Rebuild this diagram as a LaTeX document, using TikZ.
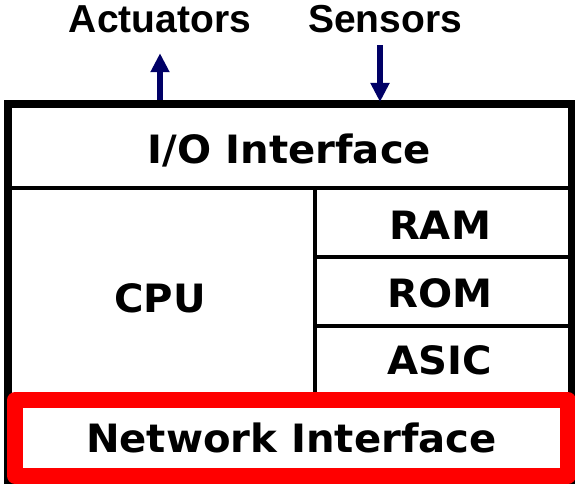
\documentclass[tikz,border=0pt]{standalone}
\usepackage{fontspec}
\newfontfamily\boxfont[FakeStretch=1.03]{DejaVu Sans}
\newfontfamily\labelfont{Liberation Sans}
\usetikzlibrary{arrows.meta}
\definecolor{sigblue}{RGB}{0,0,102}
\definecolor{netred}{RGB}{255,0,0}
\tikzset{
  cell/.style={font=\boxfont\bfseries\fontsize{39}{40}\selectfont, inner sep=0pt, text height=28pt, text depth=0pt},
  extlabel/.style={font=\labelfont\bfseries\fontsize{39}{40}\selectfont, inner sep=0pt, text height=28pt, text depth=0pt},
  sigarrow/.style={draw=sigblue, line width=6pt, -{Triangle[width=18pt,length=19pt]}},
  netbox/.style={cell, draw=netred, line width=16pt, line join=round, fill=white, minimum width=553pt, minimum height=75.5pt},
}
\begin{document}
\begin{tikzpicture}[x=1pt,y=-1pt]
    \useasboundingbox (0,0) rectangle (575,484);
    \draw[line width=8pt] (7.5,104) rectangle (571.5,480);
    \draw[line width=4pt] (7.5,188) -- (571.5,188);
    \draw[line width=4pt] (315,188) -- (315,400);
    \draw[line width=4pt] (315,257) -- (571.5,257) (315,326) -- (571.5,326);
    \node[cell] (io) at (289.5,149) {I/O Interface};
    \node[cell] (cpu) at (160,298) {CPU};
    \node[cell] (ram) at (440,225) {RAM};
    \node[cell] (rom) at (440,293) {ROM};
    \node[cell] (asic) at (440,360) {ASIC};
    \node[netbox] (net) at (291.5,438) {Network Interface};
    \node[extlabel] (act) at (160,19) {Actuators};
    \node[extlabel] (sens) at (385,19) {Sensors};
    \coordinate (actfoot) at (160,100);
    \coordinate (sensfoot) at (380,102);
    \draw[sigarrow, shorten >=20pt] (actfoot) -- (act.south -| actfoot);
    \draw[sigarrow, shorten <=12pt] (sens.south -| sensfoot) -- (sensfoot);
\end{tikzpicture}
\end{document}
